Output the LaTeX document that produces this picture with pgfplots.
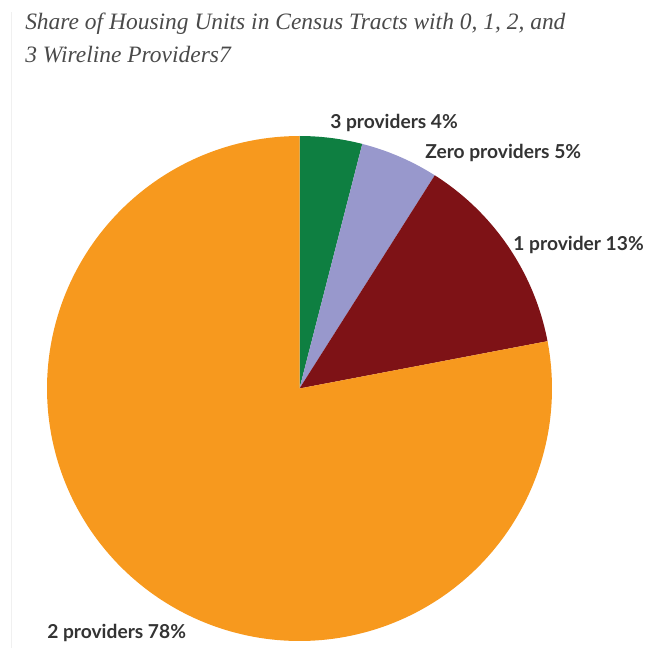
\documentclass[border=0pt]{standalone}
\usepackage{pgfplots}
\pgfplotsset{compat=1.18}
\usepackage{pgfplotstable}
\usepackage{fontspec}
\setmainfont{Liberation Serif}
\newfontfamily\labelfont{Lato}
\definecolor{cgreen}{HTML}{0E7F41}
\definecolor{clav}{HTML}{9898CC}
\definecolor{cred}{HTML}{7E1216}
\definecolor{corange}{HTML}{F7991E}
\definecolor{ctext}{HTML}{333333}
\definecolor{ctitle}{HTML}{4A4A4A}
% share of housing units (percent), clockwise from 12 o'clock
\pgfplotstableread{
label pct
three 4
zero 5
one 13
two 78
}\pietable
\pgfplotstablegetelem{0}{pct}\of\pietable \let\pA\pgfplotsretval
\pgfplotstablegetelem{1}{pct}\of\pietable \let\pB\pgfplotsretval
\pgfplotstablegetelem{2}{pct}\of\pietable \let\pC\pgfplotsretval
\pgfplotstablegetelem{3}{pct}\of\pietable \let\pD\pgfplotsretval
\pgfmathsetmacro{\aA}{0}
\pgfmathsetmacro{\aB}{\aA+3.6*\pA}
\pgfmathsetmacro{\aC}{\aB+3.6*\pB}
\pgfmathsetmacro{\aD}{\aC+3.6*\pC}
\pgfmathsetmacro{\aE}{\aD+3.6*\pD}
\def\cx{299.5}
\def\cy{388.5}
\def\rr{252.5}
\begin{document}
\begin{tikzpicture}
\begin{axis}[
  scale only axis, width=486.75pt, height=486pt,
  xmin=0, xmax=649, ymin=0, ymax=648, y dir=reverse,
  hide axis, clip=false,
]
\addplot[draw=black!6, line width=0.75pt] coordinates {(11.5,12) (11.5,648)};
\addplot[fill=cgreen, draw=none, domain=\aA:\aB, samples=20] ({\cx+\rr*sin(x)},{\cy-\rr*cos(x)}) -- (\cx,\cy) -- cycle;
\addplot[fill=clav, draw=none, domain=\aB:\aC, samples=20] ({\cx+\rr*sin(x)},{\cy-\rr*cos(x)}) -- (\cx,\cy) -- cycle;
\addplot[fill=cred, draw=none, domain=\aC:\aD, samples=40] ({\cx+\rr*sin(x)},{\cy-\rr*cos(x)}) -- (\cx,\cy) -- cycle;
\addplot[fill=corange, draw=none, domain=\aD:\aE, samples=200] ({\cx+\rr*sin(x)},{\cy-\rr*cos(x)}) -- (\cx,\cy) -- cycle;
\node[anchor=base west, inner sep=0pt, text=ctitle, font=\fontsize{17.6pt}{24pt}\selectfont\itshape] at (25,29.5) {Share of Housing Units in Census Tracts with 0, 1, 2, and};
\node[anchor=base west, inner sep=0pt, text=ctitle, font=\fontsize{17.6pt}{24pt}\selectfont\itshape] at (25,63) {3 Wireline Providers7};
\tikzset{lab/.style={anchor=base west, inner sep=0pt, text=ctext, font=\labelfont\bfseries\fontsize{14.4pt}{16pt}\selectfont}}
\node[lab] at (330,128.3) {3 providers \pA\%};
\node[lab] at (425,158.3) {Zero providers \pB\%};
\node[lab, anchor=base east] at (644,251) {1 provider \pC\%};
\node[lab] at (47,638) {2 providers \pD\%};
\end{axis}
\pgfresetboundingbox
\useasboundingbox (0,0) rectangle (486.75pt,486pt);
\end{tikzpicture}
\end{document}
